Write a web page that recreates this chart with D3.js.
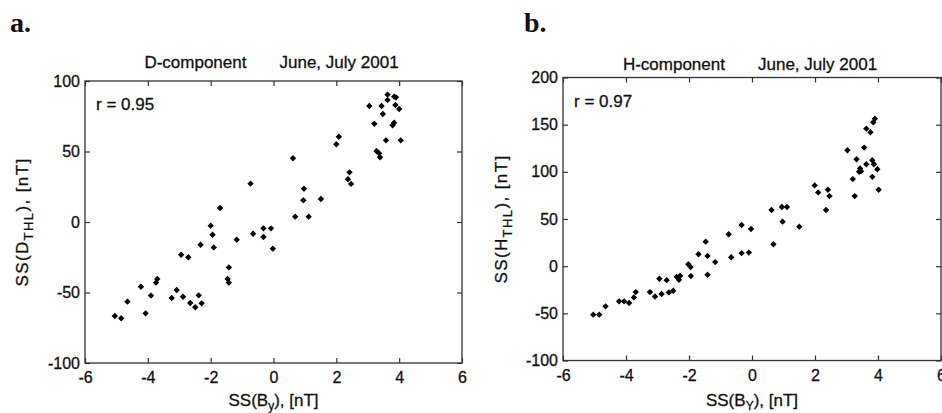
<!DOCTYPE html>
<html>
<head>
<meta charset="utf-8">
<script src="https://cdn.jsdelivr.net/npm/d3@7"></script>
<style>
  body { margin: 0; background: #fff; }
  svg { display: block; }
  text { font-family: "Liberation Sans", Arial, Helvetica, sans-serif; fill: #111; stroke: #111; stroke-width: 0.3px; }
</style>
</head>
<body>
<div id="chart"></div>
<script>
// tick values
const xTicks = [-6, -4, -2, 0, 2, 4, 6];
const dTicks = [-100, -50, 0, 50, 100];
const hTicks = [-100, -50, 0, 50, 100, 150, 200];

// panel a: SS(By) vs SS(D_THL)
const dX = [-5.05, -4.85, -4.65, -4.22, -4.07, -3.90, -3.74, -3.70, -3.24, -3.08, -2.94, -2.88, -2.71, -2.65,
            -2.49, -2.38, -2.32, -2.29, -2.00, -1.94, -1.90, -1.70, -1.42, -1.46, -1.42, -1.17, -0.73, -0.65,
            -0.32, -0.32, -0.08, -0.02, 0.62, 0.69, 0.97, 0.95, 1.12, 1.51, 2.00, 2.08, 2.42, 2.37, 2.47,
            3.05, 3.21, 3.28, 3.36, 3.39, 3.44, 3.48, 3.58, 3.63, 3.63, 3.79, 3.84, 3.84, 3.90, 3.88, 4.00, 4.05];
const dY = [-66.7, -68.3, -56.5, -45.9, -64.8, -52.2, -43.0, -40.4, -53.9, -48.2, -23.2, -53.0, -25.0, -57.4,
            -60.5, -52.0, -16.1, -57.7, -2.6, -9.0, -18.0, 9.9, -32.2, -40.4, -43.0, -12.5, 27.2, -8.3,
            -4.5, -10.6, -4.5, -18.9, 45.2, 3.8, 23.6, 15.4, 3.8, 16.3, 55.1, 60.5, 35.2, 30.3, 27.0,
            82.3, 69.7, 50.4, 48.7, 45.9, 82.3, 76.6, 57.9, 90.3, 86.5, 68.6, 70.4, 88.9, 88.4, 83.0, 80.1, 57.9];

// panel b: SS(BY) vs SS(H_THL)
const hX = [-5.04, -4.85, -4.65, -4.22, -4.06, -3.90, -3.75, -3.69, -3.24, -3.08, -2.94, -2.87, -2.71, -2.64,
            -2.50, -2.39, -2.32, -2.28, -2.02, -1.95, -1.94, -1.70, -1.47, -1.41, -1.41, -1.17, -0.74, -0.66,
            -0.33, -0.33, -0.10, -0.03, 0.62, 0.68, 0.95, 1.11, 0.97, 1.50, 1.99, 2.10, 2.41, 2.46, 2.35,
            3.03, 3.20, 3.26, 3.32, 3.40, 3.43, 3.46, 3.56, 3.63, 3.63, 3.76, 3.82, 3.87, 3.82, 3.85, 3.90, 3.98, 4.02];
const hY = [-51.4, -51.4, -42.6, -37.3, -37.3, -39.1, -33.1, -27.5, -27.5, -32.1, -13.4, -29.5, -14.8, -27.8,
            -26.1, -11.3, -14.4, -10.2, 2.1, -1.0, -10.5, 12.7, 26.0, 10.9, -9.1, 4.3, 33.8, 9.5,
            43.7, 13.8, 14.4, 39.4, 59.5, 23.3, 62.7, 62.7, 47.2, 41.9, 85.6, 78.2, 81.0, 74.3, 59.5,
            122.9, 92.3, 74.3, 113.4, 100.0, 103.5, 100.7, 125.7, 108.1, 145.8, 141.9, 112.3, 108.1, 94.7, 152.5, 156.4, 102.8, 81.0];

const panels = [
  { tag: "a.", tagX: 10, title: "D-component       June, July 2001", titleY: 68, r: "r = 0.95",
    left: 85, right: 462, top: 81, bottom: 363, yDomain: [-100, 100], yTicks: dTicks,
    xs: dX, ys: dY, yMain: "SS(D", xSub: "y", yLabelX: 28 },
  { tag: "b.", tagX: 524, title: "H-component       June, July 2001", titleY: 70, r: "r = 0.97",
    left: 563, right: 941, top: 77.5, bottom: 360.5, yDomain: [-100, 200], yTicks: hTicks,
    xs: hX, ys: hY, yMain: "SS(H", xSub: "Y", yLabelX: 507 }
];

const width = 942, height = 413;

const svg = d3.select("#chart")
  .append("svg")
  .attr("width", width)
  .attr("height", height);

const fmt = d => String(d);
const diamond = d3.symbol().type(d3.symbolDiamond2 || d3.symbolDiamond).size(26);

panels.forEach(p => {
  const x = d3.scaleLinear().domain([-6, 6]).range([p.left, p.right]);
  const y = d3.scaleLinear().domain(p.yDomain).range([p.bottom, p.top]);

  // panel letter
  svg.append("text")
    .attr("x", p.tagX)
    .attr("y", 32)
    .style("font-family", "'Liberation Serif', 'Times New Roman', serif")
    .style("font-weight", "bold")
    .style("font-size", "28px")
    .style("stroke-width", "0px")
    .text(p.tag);

  // title
  svg.append("text")
    .attr("x", (p.left + p.right) / 2 - 2)
    .attr("y", p.titleY)
    .attr("text-anchor", "middle")
    .style("font-size", "17px")
    .style("white-space", "pre")
    .text(p.title);

  // axes, ticks pointing inwards on all sides
  const bottomAxis = svg.append("g")
    .attr("transform", `translate(0,${p.bottom})`)
    .call(d3.axisBottom(x).tickValues(xTicks).tickFormat(fmt).tickSize(-5).tickPadding(9));
  svg.append("g")
    .attr("transform", `translate(0,${p.top})`)
    .call(d3.axisTop(x).tickValues(xTicks).tickFormat("").tickSize(-5));
  const leftAxis = svg.append("g")
    .attr("transform", `translate(${p.left},0)`)
    .call(d3.axisLeft(y).tickValues(p.yTicks).tickFormat(fmt).tickSize(-5).tickPadding(5));
  svg.append("g")
    .attr("transform", `translate(${p.right},0)`)
    .call(d3.axisRight(y).tickValues(p.yTicks).tickFormat("").tickSize(-5));

  svg.selectAll(".domain").remove();
  svg.selectAll(".tick line").attr("stroke", "#333").attr("stroke-width", 1.2);
  [bottomAxis, leftAxis].forEach(g => g.selectAll("text")
    .style("font-family", "'Liberation Sans', Arial, sans-serif")
    .style("font-size", "16px")
    .attr("fill", "#111"));

  // box
  svg.append("rect")
    .attr("x", p.left)
    .attr("y", p.top)
    .attr("width", p.right - p.left)
    .attr("height", p.bottom - p.top)
    .attr("fill", "none")
    .attr("stroke", "#333")
    .attr("stroke-width", 1.3);

  // correlation
  svg.append("text")
    .attr("x", p.left + 11)
    .attr("y", p.top + 29)
    .style("font-size", "17px")
    .text(p.r);

  // points
  svg.append("g")
    .selectAll("path")
    .data(p.xs.map((v, i) => [v, p.ys[i]]))
    .join("path")
    .attr("transform", d => `translate(${x(d[0])},${y(d[1])})`)
    .attr("d", diamond)
    .attr("fill", "#000");

  // x label
  const xl = svg.append("text")
    .attr("x", (p.left + p.right) / 2)
    .attr("y", 406)
    .attr("text-anchor", "middle")
    .style("font-size", "17px");
  xl.append("tspan").text("SS(B");
  xl.append("tspan").attr("dy", 4).style("font-size", "12px").text(p.xSub);
  xl.append("tspan").attr("dy", -4).text("), [nT]");

  // y label
  const yl = svg.append("text")
    .attr("transform", `translate(${p.yLabelX},${(p.top + p.bottom) / 2}) rotate(-90)`)
    .attr("text-anchor", "middle")
    .style("font-size", "17px")
    .style("letter-spacing", "1.4px");
  yl.append("tspan").text(p.yMain);
  yl.append("tspan").attr("dy", 5).style("font-size", "13px").text("THL");
  yl.append("tspan").attr("dy", -5).text("), [nT]");
});
</script>
</body>
</html>
